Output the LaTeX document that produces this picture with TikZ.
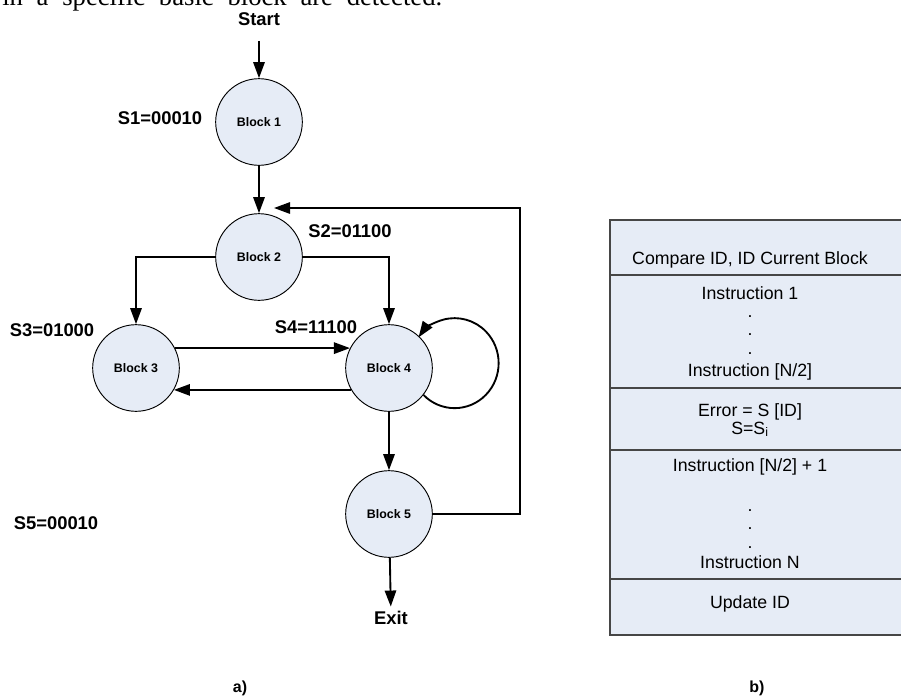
\documentclass[tikz,border=0pt]{standalone}
\usepackage{fontspec}
\setmainfont{Liberation Sans}
\newfontfamily\textserif{Liberation Serif}
\usetikzlibrary{arrows.meta}
\definecolor{blockfill}{RGB}{230,236,246}
\definecolor{frameline}{RGB}{70,70,70}
\tikzset{
  block/.style={circle,draw,line width=0.7pt,fill=blockfill,minimum size=65pt,inner sep=0pt,
    font=\fontsize{9.3}{11}\selectfont\bfseries},
  tag/.style={font=\fontsize{13.8}{16}\selectfont\bfseries},
  flow/.style={line width=1.4pt,-{Triangle[length=12pt,width=8.5pt]}},
  rowtext/.style={anchor=base,inner sep=0pt,font=\fontsize{13.3}{16}\selectfont},
}
\begin{document}
\begin{tikzpicture}[x=0.75pt,y=-0.75pt]
\clip (0,0) rectangle (901,700);
\node[anchor=base west,inner sep=0pt] (cut) at (2,5)
  {\textserif\fontsize{20}{24}\selectfont\makebox[330pt][s]{in a specific basic block are detected.}};
% flow graph
\node[tag] (start) at (259,19) {Start};
\node[block] (b1) at (259,122) {Block 1};
\node[block] (b2) at (259,257) {Block 2};
\node[block] (b3) at (136,368) {Block 3};
\node[block] (b4) at (389,368) {Block 4};
\node[block] (b5) at (389,514) {Block 5};
\node[tag] (exit) at (391,618) {Exit};
\node[tag] (s1) at (160,118) {S1=00010};
\node[tag] (s2) at (350,231) {S2=01100};
\node[tag] (s3) at (52,330) {S3=01000};
\node[tag] (s4) at (316,327) {S4=11100};
\node[tag] (s5) at (56,523) {S5=00010};
\coordinate (back) at (520,208);
\coordinate (backend) at (274,208);
\draw[flow,shorten <=8pt] (start) -- (b1);
\draw[flow] (b1) -- (b2);
\draw[flow] (b2.west) -| (b3.north);
\draw[flow] (b2.east) -| (b4.north);
\draw[flow] (b3.27) -- (b4.153);
\draw[flow] (b4.210) -- (b3.-30);
\draw[flow] (b4.-38) arc[start angle=135,end angle=-145,x radius=44,y radius=45];
\draw[flow] (b4) -- (b5);
\draw[flow] (b5) -- (exit);
\draw[flow] (b5.east) -| (back) -- (backend);
% block layout
\draw[frameline,line width=1.1pt,fill=blockfill] (610,220) rectangle (915,635);
\foreach \y in {275,388,450,579}
  \draw[frameline,line width=1.1pt] (610,\y) -- (915,\y);
\node[rowtext] (cmp) at (750,264) {Compare ID, ID Current Block};
\node[rowtext] (ins1) at (750,299) {Instruction 1};
\foreach \y in {317,335,354,511,529,548}
  \node[rowtext] at (750,\y) {.};
\node[rowtext] (insh) at (750,376) {Instruction [N/2]};
\node[rowtext] (err) at (750,416) {Error = S [ID]};
\node[rowtext] (ssi) at (750,434) {S=S\textsubscript{i}};
\node[rowtext] (insh1) at (750,471) {Instruction [N/2] + 1};
\node[rowtext] (insn) at (750,568) {Instruction N};
\node[rowtext] (upd) at (750,608) {Update ID};
% captions
\node[tag,font=\fontsize{12}{14}\selectfont\bfseries] (capa) at (240,688) {a)};
\node[tag,font=\fontsize{12}{14}\selectfont\bfseries] (capb) at (757,688) {b)};
\end{tikzpicture}
\end{document}
